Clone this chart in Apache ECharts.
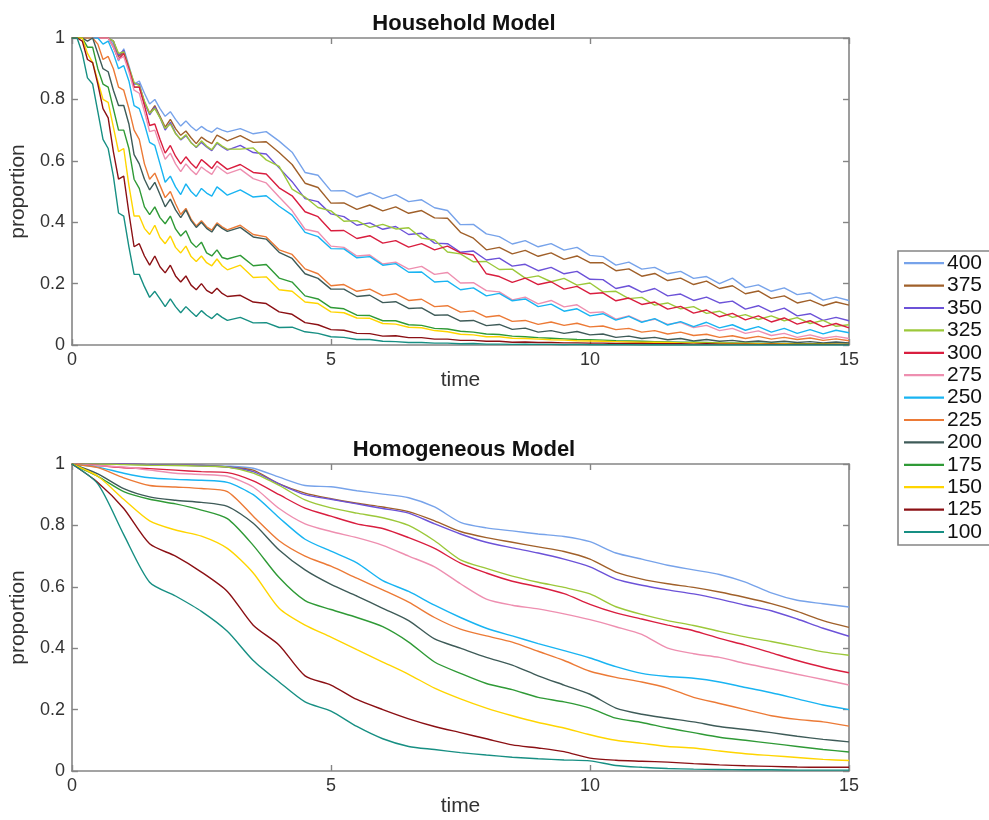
<!DOCTYPE html>
<html>
<head>
<meta charset="utf-8">
<script src="https://cdn.jsdelivr.net/npm/echarts@6/dist/echarts.min.js"></script>
<style>
  html, body { margin: 0; padding: 0; background: #ffffff; overflow: hidden; }
  #chart { width: 989px; height: 820px; }
</style>
</head>
<body>
<div id="chart"></div>
<script>
// Population sizes shown in the legend (top to bottom)
const sizes = ['400', '375', '350', '325', '300', '275', '250', '225', '200', '175', '150', '125', '100'];
const lineColors = ['#77a3ea', '#a0602a', '#6c52d8', '#9cc83a', '#d91e3f', '#ee8fb0', '#19b4f2',
                    '#ec7a36', '#3e5b58', '#2f9a36', '#ffd500', '#8b1014', '#178f83'];

// ---- Household model: sampling times and proportions ----
const timeHousehold = [0, 0.1, 0.2, 0.3, 0.4, 0.5, 0.6, 0.7, 0.8, 0.9, 1, 1.1, 1.2, 1.3, 1.4, 1.5,
  1.6, 1.7, 1.8, 1.9, 2, 2.1, 2.2, 2.3, 2.4, 2.5, 2.6, 2.7, 2.8, 2.9, 3,
  3.25, 3.5, 3.75, 4, 4.25, 4.5, 4.75, 5,
  5.25, 5.5, 5.75, 6, 6.25, 6.5, 6.75, 7,
  7.25, 7.5, 7.75, 8, 8.25, 8.5, 8.75, 9,
  9.25, 9.5, 9.75, 10, 10.25, 10.5, 10.75, 11,
  11.25, 11.5, 11.75, 12, 12.25, 12.5, 12.75, 13,
  13.25, 13.5, 13.75, 14, 14.25, 14.5, 14.75, 15];

const hh400 = [1, 1, 1, 1, 1, 1, 1, 1, 0.98, 0.925, 0.965, 0.91, 0.85, 0.86, 0.82, 0.785,
  0.8, 0.77, 0.745, 0.76, 0.735, 0.713, 0.73, 0.712, 0.698, 0.712, 0.7, 0.693, 0.707, 0.7, 0.694,
  0.705, 0.688, 0.695, 0.664, 0.628, 0.562, 0.553, 0.502,
  0.503, 0.482, 0.496, 0.477, 0.49, 0.467, 0.473, 0.447,
  0.438, 0.392, 0.393, 0.362, 0.353, 0.329, 0.34, 0.32,
  0.33, 0.309, 0.318, 0.292, 0.288, 0.26, 0.27, 0.247,
  0.253, 0.232, 0.24, 0.217, 0.223, 0.2, 0.218, 0.187,
  0.196, 0.175, 0.186, 0.164, 0.17, 0.146, 0.156, 0.145];
const hh375 = [1, 1, 1, 1, 1, 1, 1, 1, 0.99, 0.94, 0.955, 0.9, 0.84, 0.84, 0.79, 0.755,
  0.78, 0.745, 0.71, 0.735, 0.705, 0.683, 0.697, 0.675, 0.656, 0.677, 0.665, 0.656, 0.684, 0.675, 0.665,
  0.682, 0.66, 0.662, 0.627, 0.588, 0.527, 0.513, 0.462,
  0.463, 0.442, 0.456, 0.437, 0.45, 0.429, 0.438, 0.414,
  0.413, 0.367, 0.348, 0.31, 0.318, 0.297, 0.308, 0.289,
  0.3, 0.279, 0.29, 0.268, 0.268, 0.242, 0.248, 0.224,
  0.233, 0.21, 0.218, 0.197, 0.208, 0.184, 0.193, 0.167,
  0.176, 0.152, 0.16, 0.137, 0.146, 0.128, 0.14, 0.13];
const hh350 = [1, 1, 1, 1, 1, 1, 1, 1, 0.99, 0.945, 0.96, 0.9, 0.85, 0.85, 0.79, 0.75,
  0.775, 0.74, 0.7, 0.725, 0.69, 0.668, 0.682, 0.66, 0.643, 0.66, 0.645, 0.633, 0.657, 0.645, 0.635,
  0.65, 0.627, 0.622, 0.577, 0.532, 0.477, 0.467, 0.427,
  0.418, 0.39, 0.398, 0.377, 0.386, 0.36, 0.364, 0.332,
  0.33, 0.302, 0.306, 0.277, 0.283, 0.257, 0.263, 0.242,
  0.253, 0.232, 0.24, 0.214, 0.213, 0.184, 0.193, 0.172,
  0.184, 0.16, 0.166, 0.145, 0.156, 0.137, 0.143, 0.117,
  0.128, 0.108, 0.12, 0.095, 0.102, 0.08, 0.09, 0.079];
const hh325 = [1, 1, 1, 1, 1, 1, 1, 1, 0.99, 0.95, 0.955, 0.905, 0.855, 0.845, 0.795, 0.755,
  0.77, 0.74, 0.705, 0.72, 0.688, 0.67, 0.685, 0.658, 0.645, 0.665, 0.648, 0.636, 0.66, 0.648, 0.638,
  0.638, 0.642, 0.603, 0.582, 0.508, 0.482, 0.448, 0.437,
  0.403, 0.405, 0.383, 0.393, 0.378, 0.382, 0.348, 0.342,
  0.303, 0.297, 0.271, 0.272, 0.246, 0.247, 0.218, 0.225,
  0.206, 0.217, 0.195, 0.202, 0.173, 0.175, 0.151, 0.155,
  0.13, 0.137, 0.118, 0.125, 0.103, 0.11, 0.09, 0.099,
  0.083, 0.095, 0.079, 0.089, 0.07, 0.08, 0.061, 0.066];
const hh300 = [1, 1, 1, 1, 1, 1, 1, 1, 0.97, 0.93, 0.95, 0.9, 0.84, 0.84, 0.78, 0.715,
  0.72, 0.67, 0.625, 0.65, 0.615, 0.59, 0.613, 0.592, 0.576, 0.604, 0.59, 0.575, 0.598, 0.585, 0.572,
  0.588, 0.562, 0.557, 0.512, 0.486, 0.434, 0.418, 0.372,
  0.373, 0.347, 0.356, 0.332, 0.34, 0.319, 0.33, 0.31,
  0.322, 0.3, 0.293, 0.232, 0.223, 0.204, 0.218, 0.197,
  0.206, 0.182, 0.191, 0.167, 0.17, 0.144, 0.153, 0.132,
  0.14, 0.117, 0.126, 0.104, 0.114, 0.092, 0.103, 0.082,
  0.095, 0.075, 0.088, 0.068, 0.079, 0.059, 0.07, 0.056];
const hh275 = [1, 1, 1, 1, 1, 1, 1, 1, 0.97, 0.93, 0.94, 0.89, 0.83, 0.82, 0.76, 0.695,
  0.7, 0.65, 0.605, 0.625, 0.59, 0.565, 0.59, 0.57, 0.555, 0.58, 0.567, 0.556, 0.583, 0.57, 0.558,
  0.573, 0.542, 0.528, 0.482, 0.438, 0.377, 0.368, 0.322,
  0.318, 0.29, 0.293, 0.264, 0.27, 0.247, 0.256, 0.23,
  0.236, 0.202, 0.203, 0.177, 0.173, 0.147, 0.156, 0.134,
  0.145, 0.124, 0.131, 0.105, 0.108, 0.084, 0.095, 0.076,
  0.084, 0.067, 0.074, 0.057, 0.064, 0.047, 0.054, 0.038,
  0.046, 0.031, 0.038, 0.025, 0.033, 0.022, 0.028, 0.021];
const hh250 = [1, 1, 1, 1, 1, 1, 0.98, 0.99, 0.95, 0.9, 0.91, 0.86, 0.78, 0.77, 0.72, 0.66,
  0.65, 0.59, 0.53, 0.55, 0.515, 0.49, 0.525, 0.5, 0.484, 0.51, 0.495, 0.485, 0.515, 0.502, 0.488,
  0.505, 0.482, 0.486, 0.452, 0.423, 0.367, 0.353, 0.314,
  0.313, 0.284, 0.288, 0.26, 0.265, 0.237, 0.238, 0.205,
  0.208, 0.18, 0.186, 0.16, 0.168, 0.144, 0.15, 0.125,
  0.133, 0.11, 0.118, 0.095, 0.102, 0.081, 0.093, 0.074,
  0.086, 0.065, 0.076, 0.06, 0.074, 0.056, 0.066, 0.048,
  0.06, 0.042, 0.054, 0.038, 0.05, 0.036, 0.048, 0.04];
const hh225 = [1, 1, 1, 1, 1, 0.98, 0.93, 0.94, 0.9, 0.84, 0.83, 0.77, 0.7, 0.67, 0.59, 0.54,
  0.56, 0.52, 0.48, 0.5, 0.46, 0.425, 0.445, 0.41, 0.388, 0.405, 0.385, 0.374, 0.398, 0.385, 0.375,
  0.39, 0.36, 0.352, 0.31, 0.295, 0.248, 0.232, 0.193,
  0.197, 0.175, 0.182, 0.161, 0.167, 0.145, 0.149, 0.125,
  0.128, 0.107, 0.111, 0.091, 0.096, 0.077, 0.08, 0.067,
  0.075, 0.064, 0.071, 0.059, 0.062, 0.05, 0.054, 0.042,
  0.047, 0.036, 0.042, 0.031, 0.035, 0.025, 0.03, 0.021,
  0.028, 0.019, 0.025, 0.018, 0.023, 0.015, 0.02, 0.014];
const hh200 = [1, 1, 1, 0.99, 1, 0.95, 0.9, 0.89, 0.83, 0.78, 0.78, 0.72, 0.62, 0.59, 0.54, 0.505,
  0.53, 0.49, 0.45, 0.475, 0.44, 0.415, 0.44, 0.405, 0.383, 0.4, 0.38, 0.368, 0.393, 0.38, 0.37,
  0.383, 0.352, 0.345, 0.302, 0.282, 0.232, 0.217, 0.182,
  0.182, 0.158, 0.162, 0.138, 0.141, 0.119, 0.121, 0.097,
  0.098, 0.078, 0.08, 0.063, 0.067, 0.051, 0.055, 0.042,
  0.047, 0.038, 0.044, 0.033, 0.036, 0.025, 0.029, 0.021,
  0.025, 0.017, 0.021, 0.013, 0.018, 0.012, 0.015, 0.01,
  0.013, 0.009, 0.012, 0.008, 0.011, 0.007, 0.01, 0.007];
const hh175 = [1, 1, 1, 0.97, 0.97, 0.9, 0.85, 0.84, 0.77, 0.7, 0.7, 0.64, 0.54, 0.51, 0.45, 0.425,
  0.45, 0.415, 0.395, 0.42, 0.378, 0.355, 0.372, 0.335, 0.318, 0.335, 0.3, 0.29, 0.31, 0.285, 0.28,
  0.292, 0.258, 0.262, 0.218, 0.205, 0.16, 0.15, 0.122,
  0.118, 0.097, 0.096, 0.079, 0.079, 0.066, 0.064, 0.054,
  0.052, 0.045, 0.042, 0.036, 0.034, 0.029, 0.027, 0.024,
  0.022, 0.02, 0.018, 0.017, 0.016, 0.014, 0.013, 0.012,
  0.011, 0.01, 0.009, 0.009, 0.008, 0.007, 0.007, 0.006,
  0.006, 0.005, 0.005, 0.004, 0.004, 0.004, 0.003, 0.003];
const hh150 = [1, 1, 1, 0.95, 0.92, 0.86, 0.8, 0.79, 0.71, 0.63, 0.64, 0.52, 0.42, 0.42, 0.38, 0.36,
  0.39, 0.35, 0.33, 0.355, 0.318, 0.3, 0.322, 0.288, 0.272, 0.29, 0.268, 0.258, 0.28, 0.258, 0.245,
  0.26, 0.22, 0.222, 0.18, 0.175, 0.14, 0.135, 0.108,
  0.105, 0.088, 0.087, 0.07, 0.068, 0.058, 0.056, 0.047,
  0.043, 0.035, 0.033, 0.027, 0.027, 0.022, 0.021, 0.019,
  0.017, 0.016, 0.014, 0.013, 0.012, 0.011, 0.01, 0.009,
  0.009, 0.008, 0.007, 0.007, 0.006, 0.006, 0.005, 0.005,
  0.004, 0.004, 0.004, 0.003, 0.003, 0.003, 0.003, 0.002];
const hh125 = [1, 1, 0.99, 0.93, 0.92, 0.85, 0.77, 0.74, 0.63, 0.54, 0.55, 0.43, 0.32, 0.33, 0.29, 0.26,
  0.29, 0.255, 0.235, 0.26, 0.225, 0.205, 0.225, 0.195, 0.18, 0.2, 0.178, 0.168, 0.185, 0.168, 0.158,
  0.162, 0.14, 0.135, 0.108, 0.1, 0.073, 0.066, 0.05,
  0.048, 0.038, 0.037, 0.029, 0.03, 0.024, 0.024, 0.019,
  0.019, 0.015, 0.015, 0.012, 0.012, 0.009, 0.01, 0.008,
  0.008, 0.007, 0.007, 0.006, 0.006, 0.005, 0.005, 0.005,
  0.004, 0.004, 0.004, 0.003, 0.004, 0.003, 0.003, 0.003,
  0.002, 0.003, 0.002, 0.002, 0.002, 0.002, 0.002, 0.002];
const hh100 = [1, 1, 0.95, 0.87, 0.85, 0.76, 0.67, 0.64, 0.55, 0.43, 0.42, 0.32, 0.23, 0.23, 0.19, 0.155,
  0.175, 0.15, 0.125, 0.15, 0.125, 0.105, 0.125, 0.108, 0.093, 0.112, 0.097, 0.086, 0.102, 0.09, 0.08,
  0.09, 0.072, 0.073, 0.057, 0.058, 0.043, 0.038, 0.027,
  0.025, 0.018, 0.018, 0.012, 0.011, 0.008, 0.008, 0.006,
  0.006, 0.004, 0.005, 0.003, 0.003, 0.002, 0.003, 0.002,
  0.002, 0.001, 0.002, 0.001, 0.001, 0.001, 0.001, 0,
  0.001, 0, 0, 0, 0, 0, 0, 0,
  0, 0, 0, 0, 0, 0, 0, 0];

// ---- Homogeneous model: sampling times and proportions ----
const timeHomogeneous = [0, 0.5, 1, 1.5, 2, 2.5, 3, 3.5, 4, 4.5,
  5, 5.5, 6, 6.5, 7, 7.5, 8, 8.5, 9, 9.5, 10, 10.5, 11, 11.5, 12, 12.5, 13, 13.5, 14, 14.5, 15];

const hg400 = [1, 1, 1, 0.998, 0.996, 0.995, 0.993, 0.986, 0.957, 0.93,
  0.926, 0.913, 0.902, 0.89, 0.86, 0.81, 0.792, 0.782, 0.772, 0.764, 0.747,
  0.71, 0.69, 0.67, 0.655, 0.64, 0.615, 0.58, 0.556, 0.545, 0.534];
const hg375 = [1, 1, 1, 0.998, 0.996, 0.995, 0.99, 0.98, 0.935, 0.905,
  0.887, 0.872, 0.86, 0.845, 0.815, 0.78, 0.76, 0.745, 0.73, 0.715, 0.69,
  0.648, 0.625, 0.61, 0.598, 0.583, 0.565, 0.545, 0.52, 0.49, 0.468];
const hg350 = [1, 1, 1, 0.998, 0.996, 0.995, 0.99, 0.975, 0.935, 0.9,
  0.885, 0.87, 0.855, 0.84, 0.805, 0.772, 0.745, 0.727, 0.71, 0.69, 0.665,
  0.625, 0.605, 0.59, 0.577, 0.56, 0.54, 0.522, 0.495, 0.465, 0.439];
const hg325 = [1, 1, 0.998, 0.996, 0.995, 0.993, 0.99, 0.97, 0.93, 0.883,
  0.857, 0.84, 0.825, 0.8, 0.75, 0.688, 0.66, 0.635, 0.615, 0.598, 0.577,
  0.535, 0.51, 0.49, 0.474, 0.455, 0.437, 0.422, 0.405, 0.388, 0.377];
const hg300 = [1, 0.995, 0.988, 0.985, 0.98, 0.975, 0.972, 0.945, 0.9, 0.856,
  0.83, 0.805, 0.79, 0.76, 0.725, 0.677, 0.645, 0.618, 0.6, 0.578, 0.543,
  0.515, 0.495, 0.475, 0.457, 0.432, 0.41, 0.385, 0.36, 0.338, 0.32];
const hg275 = [1, 0.995, 0.99, 0.98, 0.97, 0.966, 0.96, 0.925, 0.855, 0.805,
  0.78, 0.76, 0.735, 0.7, 0.665, 0.61, 0.56, 0.54, 0.528, 0.512, 0.493,
  0.47, 0.445, 0.4, 0.382, 0.37, 0.35, 0.333, 0.315, 0.298, 0.28];
const hg250 = [1, 0.99, 0.97, 0.955, 0.95, 0.947, 0.94, 0.9, 0.825, 0.755,
  0.716, 0.678, 0.62, 0.585, 0.54, 0.5, 0.465, 0.44, 0.415, 0.392, 0.368,
  0.34, 0.318, 0.308, 0.302, 0.29, 0.272, 0.255, 0.235, 0.215, 0.2];
const hg225 = [1, 0.988, 0.955, 0.93, 0.925, 0.92, 0.91, 0.83, 0.75, 0.7,
  0.667, 0.628, 0.59, 0.55, 0.5, 0.462, 0.44, 0.42, 0.39, 0.36, 0.325,
  0.305, 0.29, 0.27, 0.24, 0.22, 0.2, 0.18, 0.168, 0.16, 0.146];
const hg200 = [1, 0.968, 0.92, 0.893, 0.882, 0.875, 0.862, 0.807, 0.72, 0.655,
  0.608, 0.57, 0.53, 0.49, 0.43, 0.4, 0.37, 0.345, 0.31, 0.28, 0.25,
  0.205, 0.185, 0.172, 0.16, 0.145, 0.135, 0.125, 0.113, 0.103, 0.095];
const hg175 = [1, 0.96, 0.91, 0.885, 0.87, 0.85, 0.822, 0.735, 0.63, 0.555,
  0.526, 0.5, 0.47, 0.42, 0.355, 0.318, 0.285, 0.265, 0.24, 0.225, 0.205,
  0.172, 0.158, 0.14, 0.125, 0.11, 0.1, 0.09, 0.08, 0.07, 0.062];
const hg150 = [1, 0.96, 0.885, 0.815, 0.785, 0.765, 0.725, 0.645, 0.53, 0.475,
  0.436, 0.395, 0.355, 0.315, 0.27, 0.235, 0.205, 0.18, 0.158, 0.14, 0.118,
  0.1, 0.09, 0.08, 0.075, 0.065, 0.056, 0.05, 0.044, 0.038, 0.034];
const hg125 = [1, 0.94, 0.855, 0.74, 0.7, 0.648, 0.585, 0.475, 0.41, 0.31,
  0.28, 0.233, 0.2, 0.17, 0.145, 0.125, 0.105, 0.085, 0.075, 0.063, 0.042,
  0.035, 0.032, 0.029, 0.024, 0.02, 0.017, 0.015, 0.013, 0.012, 0.012];
const hg100 = [1, 0.935, 0.77, 0.615, 0.57, 0.52, 0.455, 0.36, 0.29, 0.225,
  0.195, 0.145, 0.105, 0.08, 0.07, 0.06, 0.052, 0.045, 0.04, 0.036, 0.033,
  0.018, 0.012, 0.008, 0.006, 0.005, 0.004, 0.004, 0.003, 0.003, 0.003];

const householdSets = [hh400, hh375, hh350, hh325, hh300, hh275, hh250, hh225, hh200, hh175, hh150, hh125, hh100];
const homogeneousSets = [hg400, hg375, hg350, hg325, hg300, hg275, hg250, hg225, hg200, hg175, hg150, hg125, hg100];

const FONT = "'Liberation Sans', Arial, Helvetica, sans-serif";
const AXIS_GRAY = '#858585';

function pairUp(times, values) {
  return times.map((t, i) => [t, values[i]]);
}

// One side of the boxed axes; the top and right copies only carry inward ticks.
function boxAxis(kind, gridIndex, position, withLabels, nameText) {
  const isX = kind === 'x';
  const axis = {
    type: 'value',
    gridIndex: gridIndex,
    position: position,
    min: 0,
    max: isX ? 15 : 1,
    interval: isX ? 5 : 0.2,
    axisLine: { show: true, onZero: false, lineStyle: { color: AXIS_GRAY, width: 1.6 } },
    axisTick: { show: true, inside: true, length: 6, lineStyle: { color: AXIS_GRAY, width: 1.4 } },
    splitLine: { show: false },
    axisLabel: {
      show: withLabels,
      color: '#333333',
      fontSize: 18,
      fontFamily: FONT,
      margin: isX ? 6 : 7
    }
  };
  if (nameText) {
    axis.name = nameText;
    axis.nameLocation = 'middle';
    axis.nameGap = isX ? 24 : 38;
    axis.nameTextStyle = { color: '#333333', fontSize: 21, fontFamily: FONT };
  }
  return axis;
}

const series = [];
[householdSets, homogeneousSets].forEach((sets, g) => {
  const times = g === 0 ? timeHousehold : timeHomogeneous;
  sets.forEach((vals, k) => {
    series.push({
      name: sizes[k],
      type: 'line',
      xAxisIndex: g * 2,
      yAxisIndex: g * 2,
      data: pairUp(times, vals),
      showSymbol: false,
      symbol: 'none',
      silent: true,
      clip: true,
      smooth: g === 1 ? 0.25 : false,
      lineStyle: { color: lineColors[k], width: 1.4 },
      itemStyle: { color: lineColors[k] },
      z: 2 + k
    });
  });
});

const chart = echarts.init(document.getElementById('chart'), null, { renderer: 'canvas' });
chart.setOption({
  animation: false,
  backgroundColor: '#ffffff',
  textStyle: { fontFamily: FONT },
  title: [
    { text: 'Household Model', left: 459, top: 8, textAlign: 'center',
      textStyle: { fontSize: 22, fontWeight: 'bold', color: '#111111', fontFamily: FONT } },
    { text: 'Homogeneous Model', left: 459, top: 434, textAlign: 'center',
      textStyle: { fontSize: 22, fontWeight: 'bold', color: '#111111', fontFamily: FONT } }
  ],
  // Legend frame: left, top and bottom edges; the right edge lies off the canvas
  graphic: [{
    type: 'polyline',
    z: 0,
    silent: true,
    shape: { points: [[995, 251], [898, 251], [898, 545], [995, 545]] },
    style: { fill: null, stroke: AXIS_GRAY, lineWidth: 1.6 }
  }],
  grid: [
    { left: 69, top: 38, width: 780, height: 307 },
    { left: 69, top: 464, width: 780, height: 307 }
  ],
  xAxis: [
    boxAxis('x', 0, 'bottom', true, 'time'),
    boxAxis('x', 0, 'top', false, null),
    boxAxis('x', 1, 'bottom', true, 'time'),
    boxAxis('x', 1, 'top', false, null)
  ],
  yAxis: [
    boxAxis('y', 0, 'left', true, 'proportion'),
    boxAxis('y', 0, 'right', false, null),
    boxAxis('y', 1, 'left', true, 'proportion'),
    boxAxis('y', 1, 'right', false, null)
  ],
  legend: {
    data: sizes.map((s, k) => ({ name: s, icon: 'rect', itemStyle: { color: lineColors[k] } })),
    orient: 'vertical',
    left: 897,
    top: 251,
    padding: [1, 0, 3, 7],
    itemWidth: 40,
    itemHeight: 2.2,
    itemGap: 0,
    backgroundColor: 'rgba(0,0,0,0)',
    borderColor: 'rgba(0,0,0,0)',
    borderWidth: 0,
    textStyle: { fontSize: 21, color: '#111111', fontFamily: FONT, lineHeight: 22.4, padding: [0, 0, 0, -2] }
  },
  series: series
});
</script>
</body>
</html>
